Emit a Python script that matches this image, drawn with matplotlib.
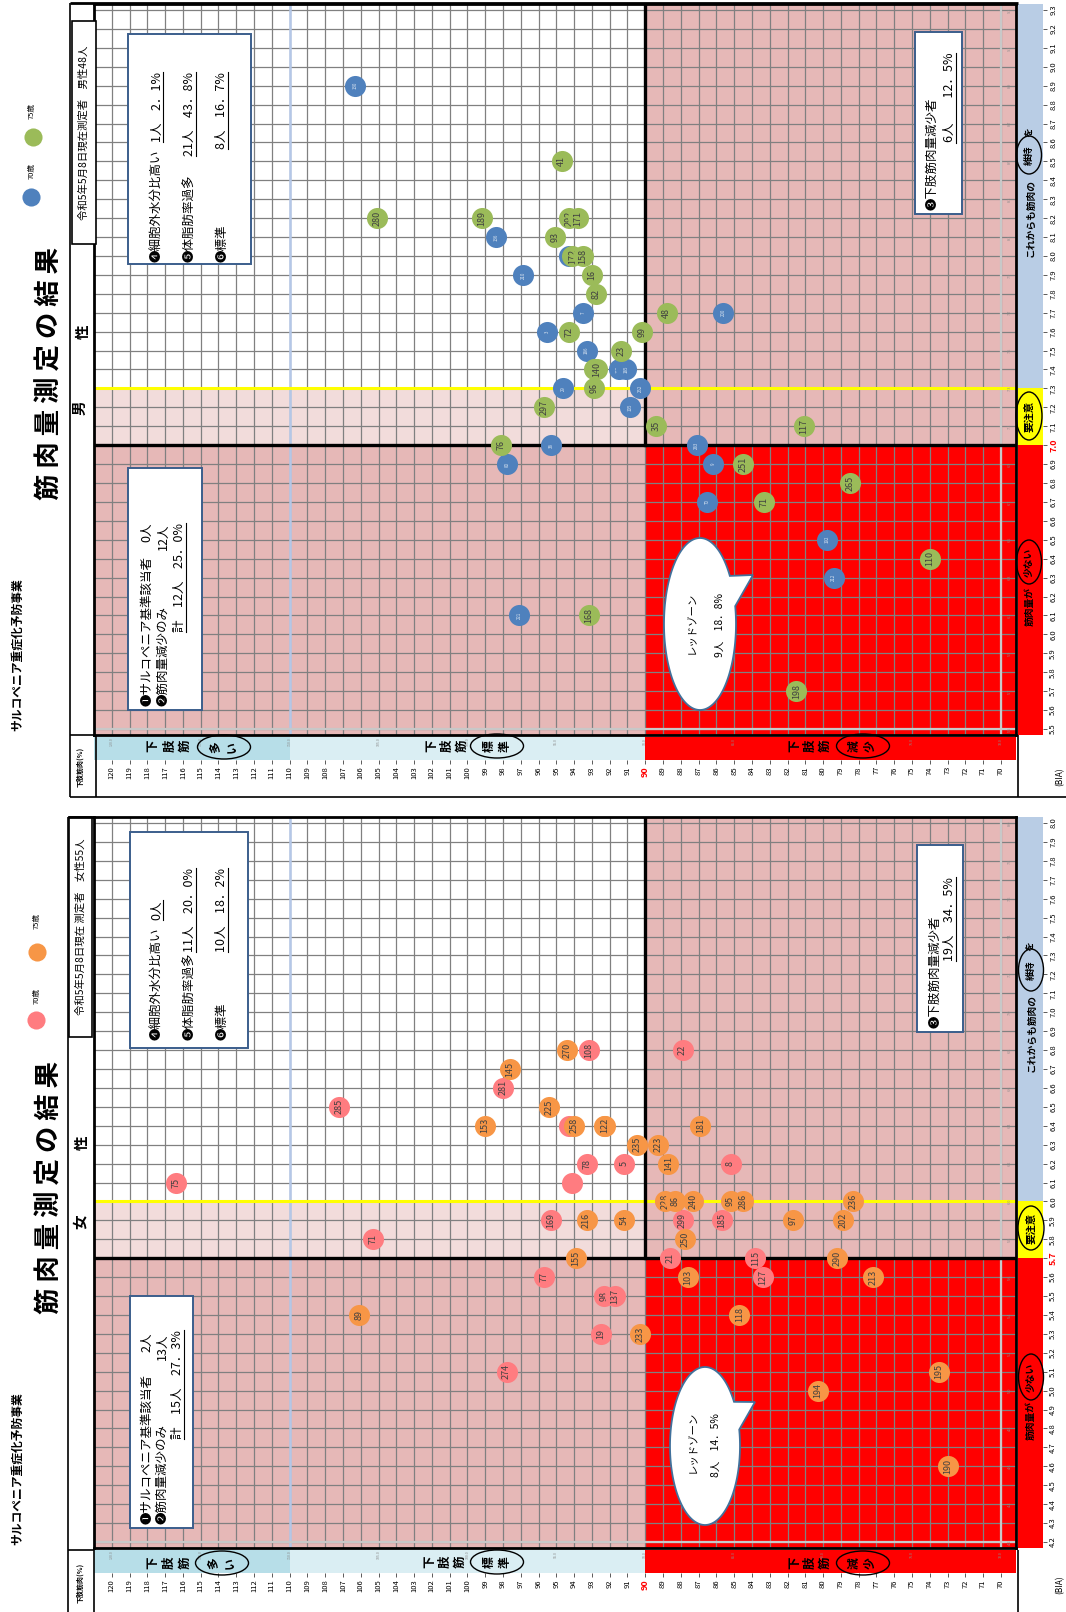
import matplotlib
matplotlib.use("Agg")
import numpy as np
import matplotlib.pyplot as plt
from matplotlib.patches import Rectangle, Ellipse, Polygon

plt.rcParams['font.family'] = ['Noto Sans CJK JP', 'DejaVu Sans']

W, H = 1066, 1612

# ---------- data: female (x = 下肢筋肉 %, y = BIA) ----------
f70_pct = [116.4, 107.2, 98.0, 93.15, 87.9, 94.3, 93.3, 91.2, 94.1, 85.2, 95.3, 87.9,
           85.7, 105.3, 88.6, 83.8, 95.7, 83.4, 92.3, 91.7, 92.5, 97.8]
f70_bia = [6.1, 6.5, 6.6, 6.8, 6.8, 6.4, 6.2, 6.2, 6.1, 6.2, 5.9, 5.9,
           5.9, 5.8, 5.7, 5.7, 5.6, 5.6, 5.5, 5.5, 5.3, 5.1]
f70_id = ['75', '285', '281', '108', '22', '', '78', '5', '', '8', '169', '299',
          '185', '71', '21', '115', '77', '127', '98', '137', '19', '274']

f75_pct = [94.4, 97.6, 95.4, 99.0, 94.0, 92.25, 92.3, 86.9, 90.45, 89.3, 88.7, 88.9,
           88.3, 87.3, 85.2, 84.5, 78.3, 93.3, 91.2, 81.7, 78.9, 87.75, 93.9, 79.2,
           87.6, 77.2, 106.1, 84.7, 90.3, 73.5, 80.3, 73.0]
f75_bia = [6.8, 6.7, 6.5, 6.4, 6.4, 6.4, 6.4, 6.4, 6.3, 6.3, 6.2, 6.0,
           6.0, 6.0, 6.0, 6.0, 6.0, 5.9, 5.9, 5.9, 5.9, 5.8, 5.7, 5.7,
           5.6, 5.6, 5.4, 5.4, 5.3, 5.1, 5.0, 4.6]
f75_id = ['270', '145', '225', '153', '258', '132', '122', '181', '235', '223', '141', '228',
          '86', '240', '95', '286', '236', '216', '54', '97', '202', '250', '155', '290',
          '103', '213', '89', '118', '233', '195', '194', '190']

# ---------- data: male ----------
m70_pct = [106.3, 98.4, 94.3, 96.85, 93.5, 85.6, 95.5, 93.3, 91.5, 91.1, 94.6, 90.3,
           90.85, 95.3, 87.1, 97.75, 86.2, 86.5, 79.8, 79.4, 97.1]
m70_bia = [8.9, 8.1, 8.0, 7.9, 7.7, 7.7, 7.6, 7.5, 7.4, 7.4, 7.3, 7.3,
           7.2, 7.0, 7.0, 6.9, 6.9, 6.7, 6.5, 6.3, 6.1]
m70_id = ['130', '136', '', '210', '7', '200', '3', '186', '165', '185', '29', '262',
          '105', '38', '283', '80', '9', '70', '192', '212', '221']

m75_pct = [105.1, 99.2, 94.7, 94.3, 93.8, 95.05, 94.1, 93.5, 93.0, 92.75, 88.8, 94.3,
           90.2, 91.35, 92.9, 92.7, 92.9, 95.7, 89.4, 81.1, 98.1, 84.5, 78.5, 83.3,
           74.0, 93.15, 81.5]
m75_bia = [8.2, 8.2, 8.5, 8.2, 8.2, 8.1, 8.0, 8.0, 7.9, 7.8, 7.7, 7.6,
           7.6, 7.5, 7.4, 7.4, 7.3, 7.2, 7.1, 7.1, 7.0, 6.9, 6.8, 6.7,
           6.4, 6.1, 5.7]
m75_id = ['280', '189', '41', '292', '171', '93', '172', '158', '16', '82', '48', '72',
          '99', '23', '11', '140', '96', '297', '35', '117', '76', '251', '265', '71',
          '110', '168', '198']

# ---------- axes ticks ----------
pct_ticks = list(range(70, 121))
pct_small = list(range(70, 121, 5))
f_bia_ticks = [round(v, 1) for v in np.arange(4.2, 8.001, 0.1)]
m_bia_ticks = [round(v, 1) for v in np.arange(5.5, 9.301, 0.1)]
f_bia_small = [round(v, 1) for v in np.arange(4.2, 8.001, 0.2)]
m_bia_small = [round(v, 1) for v in np.arange(5.5, 9.301, 0.2)]

C_PINK, C_ORANGE = '#FF7C80', '#F79646'
C_BLUE, C_GREEN = '#4F81BD', '#9BBB59'
C_ZONE, C_LIGHT = '#E6B8B7', '#F2DCDB'
C_BOX = '#3B5E8C'

X0, X1 = 121.0, 69.15
PLOT_L, PLOT_R = 94, 1016

fig = plt.figure(figsize=(W / 100, H / 100), dpi=100)


def px_axes(l, t, r, b, z=1):
    return fig.add_axes([l / W, 1 - b / H, (r - l) / W, (b - t) / H], zorder=z)


def draw_panel(top, ylim, lo, hi, bia_ticks, bia_small, series):
    bottom = top + 731
    y0, y1 = ylim
    ax = px_axes(PLOT_L, top, PLOT_R, bottom)
    ax.set_xlim(X0, X1)
    ax.set_ylim(y0, y1)
    zones = [(90, X0, hi, y1, 'white'), (90, X0, lo, hi, C_LIGHT), (90, X0, y0, lo, C_ZONE),
             (X1, 90, lo, y1, C_ZONE), (X1, 90, y0, lo, '#FF0000')]
    for xa, xb, ya, yb, c in zones:
        ax.add_patch(Rectangle((xa, ya), xb - xa, yb - ya, fc=c, ec='none', zorder=0.1))
    ax.set_xticks(pct_ticks)
    ax.set_yticks(bia_ticks)
    ax.grid(True, color='#808080', lw=0.9)
    ax.set_axisbelow(True)
    ax.tick_params(length=0, labelbottom=False, labelleft=False)
    ax.axvline(110, color='#B4C7E7', lw=1.8, zorder=0.7)
    ax.axvline(70, color='#C8C8C8', lw=1.6, zorder=0.7)
    ax.axhline(bia_ticks[0], color='#C8C8C8', lw=1.6, zorder=0.7)
    ax.axhline(hi, color='#FFFF00', lw=2.2, zorder=2)
    ax.plot([X0, X1], [lo, lo], color='black', lw=2.4, zorder=3)
    ax.plot([90, 90], [lo, y1], color='black', lw=2.4, zorder=3)
    for sp in ax.spines.values():
        sp.set_linewidth(2)
        sp.set_color('black')
    for v in bia_small:
        ax.text(69.5, v, f"{v:.1f}", rotation=90, fontsize=2.8, color='#8C8C8C',
                ha='center', va='center', zorder=3)

    k = 0
    for pcts, bias, ids, col, fs, tc in series:
        for p, b, s in zip(pcts, bias, ids):
            ax.scatter([p], [b], s=230, color=col, linewidths=0, zorder=5 + k)
            if s:
                ax.text(p, b, s, rotation=90, ha='center', va='center', fontsize=fs,
                        color=tc, zorder=5.5 + k)
            k += 1

    # 下肢筋肉 strip
    sx = px_axes(PLOT_L, bottom + 2, PLOT_R, bottom + 25)
    sx.set_xlim(X0, X1)
    sx.set_ylim(0, 1)
    for xa, xb, c in [(110, X0, '#B7DEE8'), (90, 110, '#DAEEF3'), (X1, 90, '#FF0000')]:
        sx.add_patch(Rectangle((xa, 0), xb - xa, 1, fc=c, ec='none'))
    for sp in sx.spines.values():
        sp.set_visible(False)
    sx.set_yticks([])
    sx.set_xticks(pct_ticks)
    sx.set_xticklabels([str(v) for v in pct_ticks], rotation=90, fontsize=5.5)
    sx.tick_params(axis='x', length=3, width=0.6, pad=1.5, color='#404040')
    for lbl, v in zip(sx.get_xticklabels(), pct_ticks):
        if v == 90:
            lbl.set_color('red')
            lbl.set_fontweight('bold')
            lbl.set_fontsize(6.5)
    for v in pct_small:
        sx.text(v, 0.8, f"{v:.1f}", rotation=90, fontsize=2.6, color='#8C8C8C',
                ha='center', va='center')

    # BIA strip
    bx = px_axes(1018, top, 1043, bottom)
    bx.set_ylim(y0, y1)
    bx.set_xlim(0, 1)
    for ya, yb, c in [(hi, y1, '#B9CDE5'), (lo, hi, '#FFFF00'), (y0, lo, '#FF0000')]:
        bx.add_patch(Rectangle((0, ya), 1, yb - ya, fc=c, ec='none'))
    for sp in bx.spines.values():
        sp.set_visible(False)
    bx.set_xticks([])
    bx.yaxis.tick_right()
    bx.set_yticks(bia_ticks)
    bx.set_yticklabels([f"{v:.1f}" for v in bia_ticks], rotation=90, va='center', fontsize=5.5)
    bx.tick_params(axis='y', length=3, width=0.6, pad=1.5, color='#404040')
    for lbl, v in zip(bx.get_yticklabels(), bia_ticks):
        if abs(v - lo) < 1e-6:
            lbl.set_color('red')
            lbl.set_fontweight('bold')
            lbl.set_fontsize(6.5)
    return ax


draw_panel(817, (4.168, 8.032), 5.7, 6.0, f_bia_ticks, f_bia_small,
           [(f70_pct, f70_bia, f70_id, C_PINK, 6.5, '#404040'),
            (f75_pct, f75_bia, f75_id, C_ORANGE, 6.5, '#404040')])
draw_panel(4, (5.468, 9.332), 7.0, 7.3, m_bia_ticks, m_bia_small,
           [(m70_pct, m70_bia, m70_id, C_BLUE, 3.2, '#DCE6F2'),
            (m75_pct, m75_bia, m75_id, C_GREEN, 6.5, '#404040')])

# ---------- overlay for frames and notes (pixel coordinates) ----------
ov = fig.add_axes([0, 0, 1, 1], zorder=10)
ov.set_xlim(0, W)
ov.set_ylim(H, 0)
ov.axis('off')

ul_list = []


def vt(x, y, s, size, weight='normal', va='center', color='black', ul=False):
    t = ov.text(x, y, s, rotation=90, ha='center', va=va, fontsize=size,
                fontweight=weight, color=color, zorder=4)
    if ul:
        ul_list.append(t)
    return t


def line(xs, ys, lw=1.2):
    ov.plot(xs, ys, color='black', lw=lw, solid_capstyle='butt', zorder=3)


def box(x0, y0, x1, y1):
    ov.add_patch(Rectangle((x0, y0), x1 - x0, y1 - y0, fc='white', ec=C_BOX, lw=1.4, zorder=2))


def stack(xs, y, chars, size=9):
    for x, c in zip(xs, chars):
        vt(x, y, c, size, 'bold')


def oval(x, y, w, h):
    ov.add_patch(Ellipse((x, y), w, h, fc='none', ec='black', lw=1.0, zorder=3))


def callout(cx, cy, a, b, tip, texts):
    t = np.radians(np.linspace(-12, 326, 200))
    pts = np.column_stack([cx + a * np.cos(t), cy + b * np.sin(t)])
    pts = np.vstack([pts, tip])
    ov.add_patch(Polygon(pts, closed=True, fc='white', ec='#41719C', lw=1.3, zorder=2))
    for x, y, s in texts:
        vt(x, y, s, 7.5)


# ===== female panel =====
line([68, 68], [817, 1612])
line([68, 94], [816.5, 816.5], lw=2)
line([68, 94], [1550, 1550])
line([94, 94], [1550, 1612])
line([1018, 1018], [1550, 1612])
ov.add_patch(Rectangle((69, 817), 23, 220, fc='white', ec='black', lw=1.2, zorder=2))
vt(81, 927, "令和5年5月8日現在 測定者　女性55人", 7.5)
vt(50, 1188, "筋 肉 量 測 定 の 結 果", 19, 'bold')
vt(80, 1222, "女", 10.5, 'bold')
vt(82, 1143, "性", 10.5, 'bold')
vt(18, 1469, "サルコペニア重症化予防事業", 8.5, 'bold')
ov.scatter([36], [1020], s=170, color=C_PINK, linewidths=0, zorder=3)
vt(37, 996, "70歳", 5.5)
ov.scatter([37], [952], s=170, color=C_ORANGE, linewidths=0, zorder=3)
vt(37, 921, "75歳", 5.5)
vt(80, 1583, "下肢筋肉(%)", 5, 'bold')
vt(1060, 1585, "(BIA)", 6)

stack([153, 169, 185], 1563, "下肢筋")
oval(222, 1563, 53, 24)
stack([213, 230], 1563, "多い", 8.5)
stack([430, 445, 460], 1562, "下肢筋")
oval(497, 1562, 53, 24)
stack([489, 505], 1562, "標準", 8.5)
stack([795, 810, 825], 1563, "下肢筋")
oval(863, 1563, 53, 24)
stack([854, 870], 1563, "減少", 8.5)

vt(1031, 1033, "これからも筋肉の", 7, 'bold')
oval(1031, 970, 25, 42)
vt(1031, 970, "維持", 7, 'bold')
vt(1031, 946, "を", 7, 'bold')
oval(1031, 1228, 26, 44)
vt(1031, 1228, "要注意", 7.5, 'bold')
vt(1031, 1421, "筋肉量が", 7, 'bold')
oval(1031, 1377, 25, 46)
vt(1031, 1377, "少ない", 7, 'bold')

box(130, 832, 248, 1048)
vt(157, 1040, "❹細胞外水分比高い", 9, va='bottom')
vt(157, 900, "0人", 9, va='top', ul=True)
vt(190, 1040, "❺体脂肪率過多", 9, va='bottom')
vt(190, 868, "11人　20．0%", 9, va='top', ul=True)
vt(222, 1040, "❻標準", 9, va='bottom')
vt(222, 868, "10人　18．2%", 9, va='top', ul=True)

box(917, 845, 963, 1032)
vt(935, 1028, "❸下肢筋肉量減少者", 9, va='bottom')
vt(950, 877, "19人　34．5%", 9, va='top', ul=True)

box(130, 1296, 193, 1528)
vt(147, 1524, "❶サルコペニア基準該当者", 9, va='bottom')
vt(147, 1333, "2人", 9, va='top')
vt(162, 1524, "❷筋肉量減少のみ", 9, va='bottom')
vt(162, 1333, "13人", 9, va='top')
vt(178, 1330, "計　15人　27．3%", 9, va='top', ul=True)

callout(705, 1446, 35, 79, (755, 1402),
        [(693, 1442, "レッドゾーン"), (716, 1445, "8人　14．5%")])

# ===== male panel =====
line([70, 70], [3, 797])
line([70, 1018], [3, 3], lw=2)
line([70, 96], [735, 735])
line([96, 96], [735, 797])
line([1018, 1018], [735, 797])
line([70, 1066], [797, 797])
ov.add_patch(Rectangle((72, 21), 24, 223, fc='white', ec='black', lw=1.2, zorder=2))
vt(84, 133, "令和5年5月8日現在測定者　男性48人", 7.5)
vt(50, 373, "筋 肉 量 測 定 の 結 果", 19, 'bold')
vt(80, 408, "男", 10.5, 'bold')
vt(83, 332, "性", 10.5, 'bold')
vt(18, 655, "サルコペニア重症化予防事業", 8.5, 'bold')
ov.scatter([31], [197], s=170, color=C_BLUE, linewidths=0, zorder=3)
vt(32, 171, "70歳", 5.5)
ov.scatter([33], [137], s=170, color=C_GREEN, linewidths=0, zorder=3)
vt(32, 111, "75歳", 5.5)
vt(80, 767, "下肢筋肉(%)", 5, 'bold')
vt(1060, 777, "(BIA)", 6)

stack([153, 170, 185], 746, "下肢筋")
oval(224, 747, 53, 24)
stack([215, 232], 747, "多い", 8.5)
stack([432, 447, 462], 746, "下肢筋")
oval(497, 746, 53, 24)
stack([489, 505], 746, "標準", 8.5)
stack([795, 810, 825], 746, "下肢筋")
oval(863, 746, 53, 24)
stack([854, 870], 746, "減少", 8.5)

vt(1030, 218, "これからも筋肉の", 7, 'bold')
oval(1029, 155, 25, 38)
vt(1029, 155, "維持", 7, 'bold')
vt(1030, 132, "を", 7, 'bold')
oval(1029, 416, 26, 48)
vt(1029, 416, "要注意", 7.5, 'bold')
vt(1030, 606, "筋肉量が", 7, 'bold')
oval(1029, 562, 25, 44)
vt(1029, 562, "少ない", 7, 'bold')

box(128, 34, 251, 264)
vt(157, 262, "❹細胞外水分比高い", 9, va='bottom')
vt(157, 72, "1人　2．1%", 9, va='top', ul=True)
vt(190, 262, "❺体脂肪率過多", 9, va='bottom')
vt(190, 72, "21人　43．8%", 9, va='top', ul=True)
vt(222, 262, "❻標準", 9, va='bottom')
vt(222, 72, "8人　16．7%", 9, va='top', ul=True)

box(915, 32, 962, 214)
vt(932, 210, "❸下肢筋肉量減少者", 9, va='bottom')
vt(950, 53, "6人　　12．5%", 9, va='top', ul=True)

box(128, 468, 202, 710)
vt(147, 706, "❶サルコペニア基準該当者", 9, va='bottom')
vt(147, 523, "0人", 9, va='top')
vt(163, 706, "❷筋肉量減少のみ", 9, va='bottom')
vt(163, 523, "12人", 9, va='top')
vt(180, 523, "計　12人　25．0%", 9, va='top', ul=True)

callout(700, 624, 36, 86, (753, 575),
        [(692, 623, "レッドゾーン"), (720, 625, "9人　18．8%")])

# underlines under the counts
fig.canvas.draw()
r = fig.canvas.get_renderer()
inv = ov.transData.inverted()
for t in ul_list:
    bb = t.get_window_extent(r)
    (xa, ya), (xb, yb) = inv.transform([[bb.x0, bb.y0], [bb.x1, bb.y1]])
    ov.plot([max(xa, xb) - 1] * 2, [ya, yb], color='black', lw=0.8, zorder=4)

fig.savefig("out.png", dpi=100)
